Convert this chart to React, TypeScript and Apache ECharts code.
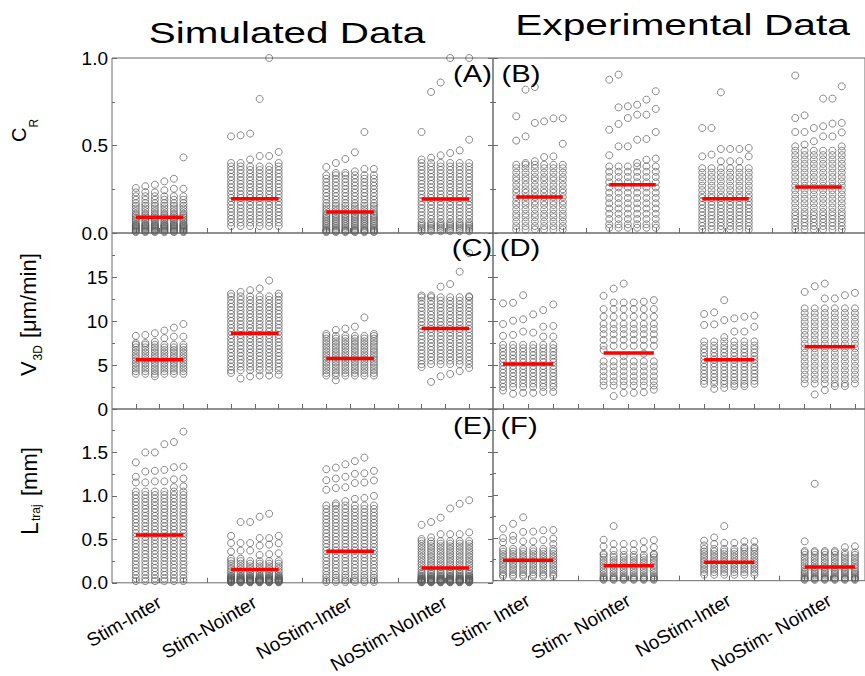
import React, { useEffect, useRef } from "react";
import * as echarts from "echarts";

// ---------- categories ----------
const CATS_SIM = ["Stim-Inter", "Stim-Nointer", "NoStim-Inter", "NoStim-NoInter"];
const CATS_EXP = ["Stim- Inter", "Stim- Nointer", "NoStim-Inter", "NoStim- Nointer"];

// ---------- medians (red bars) ----------
const A_MEDIAN = [0.09, 0.196, 0.12, 0.195];
const B_MEDIAN = [0.206, 0.276, 0.196, 0.263];
const C_MEDIAN = [5.6, 8.6, 5.75, 9.14];
const D_MEDIAN = [5.1, 6.35, 5.6, 7.07];
const E_MEDIAN = [0.549, 0.152, 0.364, 0.17];
const F_MEDIAN = [0.239, 0.174, 0.216, 0.159];

// ---------- C_R simulated (A) ----------
const A_CORE = [
  [0.21, 0.19, 0.17, 0.155, 0.14, 0.125, 0.11, 0.1, 0.09, 0.08, 0.07, 0.06, 0.05, 0.045, 0.04, 0.035, 0.03, 0.025, 0.02, 0.015, 0.01, 0.005],
  [0.38, 0.36, 0.34, 0.32, 0.3, 0.28, 0.26, 0.24, 0.22, 0.2, 0.18, 0.16, 0.14, 0.12, 0.1, 0.08, 0.06, 0.04],
  [0.33, 0.31, 0.29, 0.27, 0.25, 0.23, 0.21, 0.19, 0.17, 0.155, 0.14, 0.125, 0.11, 0.1, 0.09, 0.08, 0.07, 0.06, 0.05, 0.04, 0.03, 0.02, 0.015, 0.01, 0.005],
  [0.4, 0.38, 0.36, 0.34, 0.32, 0.3, 0.28, 0.26, 0.24, 0.22, 0.2, 0.18, 0.16, 0.14, 0.12, 0.1, 0.08, 0.06, 0.05, 0.04, 0.03, 0.02, 0.01],
];
const A_TOP = [
  [[0.257, 0.232], [0.267, 0.234], [0.276, 0.232], [0.295, 0.244], [0.31, 0.253], [0.432, 0.253]],
  [[0.552, 0.4], [0.558, 0.4], [0.568, 0.42], [0.766, 0.44], [1.0, 0.44], [0.463, 0.4]],
  [[0.377], [0.4, 0.343], [0.423, 0.343], [0.461, 0.352], [0.577, 0.366], [0.366]],
  [[0.577, 0.42], [0.806, 0.43], [0.86, 0.444], [1.0, 0.457], [0.472], [1.0, 0.533]],
];

// ---------- C_R experimental (B) ----------
const B_CORE = [
  [0.39, 0.37, 0.345, 0.32, 0.3, 0.275, 0.25, 0.23, 0.205, 0.18, 0.16, 0.135, 0.11, 0.09, 0.065, 0.04, 0.02],
  [0.38, 0.35, 0.32, 0.29, 0.26, 0.23, 0.2, 0.17, 0.14, 0.11, 0.08, 0.05, 0.03],
  [0.37, 0.345, 0.32, 0.295, 0.27, 0.245, 0.22, 0.2, 0.18, 0.16, 0.14, 0.12, 0.1, 0.08, 0.06, 0.04, 0.02],
  [0.47, 0.445, 0.42, 0.395, 0.37, 0.345, 0.32, 0.295, 0.27, 0.245, 0.22, 0.195, 0.17, 0.145, 0.12, 0.1, 0.08, 0.06, 0.04, 0.02],
];
const B_TOP = [
  [[0.667, 0.528], [0.819, 0.552, 0.4], [0.834, 0.629, 0.41], [0.638, 0.434], [0.655, 0.438], [0.655, 0.51]],
  [[0.876, 0.59, 0.444], [0.905, 0.718, 0.623, 0.495], [0.724, 0.657, 0.495], [0.733, 0.676, 0.533, 0.4], [0.762, 0.676, 0.537, 0.419], [0.81, 0.709, 0.577, 0.425]],
  [[0.6, 0.438], [0.6, 0.448], [0.804, 0.48, 0.41], [0.48, 0.41], [0.48, 0.41], [0.486, 0.438]],
  [[0.9, 0.657, 0.577, 0.495], [0.672, 0.577, 0.505], [0.6, 0.524], [0.768, 0.61, 0.552], [0.768, 0.625, 0.552], [0.838, 0.629, 0.575, 0.495]],
];

// ---------- V3D simulated (C) ----------
const C_CORE = [
  [7.3, 7.0, 6.7, 6.4, 6.1, 5.8, 5.5, 5.2, 4.9, 4.6, 4.3, 4.0],
  [12.8, 12.4, 12.0, 11.6, 11.2, 10.8, 10.4, 10.0, 9.6, 9.2, 8.8, 8.4, 8.0, 7.6, 7.2, 6.8, 6.4, 6.0, 5.6, 5.2, 4.8, 4.4],
  [8.3, 8.0, 7.7, 7.4, 7.1, 6.8, 6.5, 6.2, 5.9, 5.6, 5.3, 5.0, 4.7, 4.4, 4.1, 3.8],
  [12.7, 12.3, 11.9, 11.5, 11.1, 10.7, 10.3, 9.9, 9.5, 9.1, 8.7, 8.3, 7.9, 7.5, 7.1, 6.7, 6.3, 5.9, 5.5, 5.1],
];
const C_TOP = [
  [[8.31, 7.48], [8.42, 7.5], [8.61, 7.63, 3.72], [8.91, 8.05], [9.25, 8.23], [9.66, 8.23]],
  [[13.1, 4.1], [13.3, 3.46], [13.5, 3.7], [13.7, 3.8], [14.6, 3.8], [13.1, 3.9]],
  [[8.53], [8.98, 3.27], [9.14], [9.36], [10.4], [8.53]],
  [[12.9, 4.77], [12.9, 3.08], [13.9, 3.72], [14.2, 3.98], [15.6, 4.3], [17.7, 12.8, 4.66]],
];

// ---------- V3D experimental (D) ----------
const D_CORE = [
  [7.3, 6.9, 6.5, 6.1, 5.7, 5.3, 4.9, 4.5, 4.1, 3.7, 3.3, 2.9, 2.5],
  [11.35, 10.49, 9.66, 9.1, 8.5, 7.86, 7.18, 5.41, 4.85, 4.29, 3.72, 3.16, 2.67],
  [7.67, 7.2, 6.8, 6.4, 6.0, 5.6, 5.2, 4.8, 4.4, 4.0, 3.6, 3.2, 2.86],
  [11.43, 10.9, 10.4, 9.9, 9.4, 8.9, 8.4, 7.9, 7.4, 6.9, 6.4, 5.9, 5.4, 4.9, 4.4, 3.9, 3.4, 2.9],
];
const D_TOP = [
  [[12.0, 9.66, 8.31, 2.1], [12.07, 10.04, 8.42, 1.73], [12.93, 10.19, 8.8, 1.84], [10.75, 8.68, 1.84], [11.24, 9.36, 8.23, 1.95], [11.88, 9.44, 8.23, 1.95]],
  [[12.86, 6.7], [13.68, 12.1, 1.47], [14.25, 12.1, 6.0, 1.84], [12.1, 1.84], [12.2, 6.3, 1.9], [12.37, 2.2]],
  [[10.8, 9.55], [10.98, 9.62, 2.29], [12.37, 10.1, 8.16, 2.4], [10.3, 8.8, 2.6], [10.49, 8.8, 2.6], [10.6, 9.36]],
  [[13.3], [13.95, 1.65], [14.25, 12.56, 2.14], [12.56, 2.6], [12.93, 2.6], [13.2]],
];

// ---------- L_traj simulated (E) ----------
const E_CORE = [
  [1.05, 1.01, 0.97, 0.93, 0.89, 0.85, 0.81, 0.77, 0.73, 0.69, 0.65, 0.61, 0.57, 0.53, 0.49, 0.45, 0.41, 0.37, 0.33, 0.29, 0.25, 0.21, 0.17, 0.13, 0.09, 0.05, 0.02],
  [0.25, 0.22, 0.19, 0.16, 0.13, 0.1, 0.08, 0.07, 0.06, 0.05, 0.045, 0.04, 0.035, 0.03, 0.025, 0.02, 0.015, 0.01, 0.005],
  [0.89, 0.85, 0.81, 0.77, 0.73, 0.69, 0.65, 0.61, 0.57, 0.53, 0.49, 0.45, 0.41, 0.37, 0.33, 0.29, 0.25, 0.21, 0.17, 0.13, 0.09, 0.06, 0.03, 0.01],
  [0.48, 0.45, 0.42, 0.39, 0.36, 0.33, 0.3, 0.27, 0.24, 0.21, 0.18, 0.15, 0.12, 0.1, 0.08, 0.07, 0.06, 0.05, 0.045, 0.04, 0.035, 0.03, 0.025, 0.02, 0.015, 0.01, 0.005],
];
const E_TOP = [
  [[1.386, 1.22, 1.155], [1.5, 1.28, 1.155], [1.5, 1.288, 1.167], [1.595, 1.3, 1.167], [1.62, 1.33, 1.19, 1.1], [1.74, 1.337, 1.2, 1.11]],
  [[0.54, 0.458, 0.36, 0.277], [0.7, 0.458, 0.371, 0.277], [0.7, 0.458, 0.371], [0.76, 0.515, 0.428, 0.32], [0.795, 0.515, 0.44, 0.33], [0.54, 0.455, 0.34]],
  [[1.307, 1.18, 1.07], [1.326, 1.2, 1.09, 0.913], [1.364, 1.22, 1.1, 0.94], [1.4, 1.254, 1.148, 0.966], [1.44, 1.26, 1.155, 0.977], [1.288, 1.178, 1.0]],
  [[0.667, 0.504], [0.7, 0.523], [0.75, 0.56], [0.856, 0.56], [0.909, 0.56], [0.95, 0.58]],
];

// ---------- L_traj experimental (F) ----------
const F_CORE = [
  [0.37, 0.34, 0.31, 0.28, 0.25, 0.22, 0.19, 0.16, 0.13, 0.1, 0.07, 0.05],
  [0.3, 0.27, 0.24, 0.21, 0.18, 0.15, 0.12, 0.09, 0.06, 0.04, 0.03, 0.02, 0.01],
  [0.37, 0.34, 0.31, 0.28, 0.25, 0.22, 0.19, 0.16, 0.13, 0.1, 0.07],
  [0.33, 0.3, 0.27, 0.24, 0.21, 0.18, 0.15, 0.12, 0.1, 0.08, 0.06, 0.04, 0.03, 0.02, 0.01],
];
const F_TOP = [
  [[0.606, 0.496, 0.447], [0.663, 0.523, 0.473], [0.739, 0.568, 0.458], [0.572, 0.458], [0.587, 0.473], [0.59, 0.49, 0.428]],
  [[0.477, 0.4, 0.314], [0.636, 0.428, 0.352], [0.428, 0.352], [0.428, 0.352], [0.458, 0.37], [0.473, 0.39, 0.314]],
  [[0.466, 0.41], [0.504, 0.428], [0.636, 0.44], [0.44], [0.458, 0.39], [0.458, 0.39]],
  [[0.458, 0.345], [1.129, 0.345], [0.345], [0.345], [0.39], [0.4]],
];

// ---------- axis positions ----------
const GROUP_START = [1, 3, 5, 7];
const COL_OFFSET = [0, 0.2, 0.4, 0.6, 0.8, 1.0];
const X_TICKS = [1, 1.5, 2, 2.5, 3, 3.5, 4, 4.5, 5, 5.5, 6, 6.5, 7, 7.5, 8];
const LABEL_POS = [1.5, 3.5, 5.5, 7.5];

const FONT = '"Liberation Sans", Arial, sans-serif';
const AXIS_COLOR = "#6a6a6a";

function buildPoints(core: number[][], top: number[][][]) {
  const out: number[][] = [];
  GROUP_START.forEach((gs, g) => {
    COL_OFFSET.forEach((off, k) => {
      const x = gs + off;
      [...core[g], ...top[g][k]].forEach((v) => out.push([x, v]));
    });
  });
  return out;
}

const Y_SPEC = [
  { min: 0, max: 1, interval: 0.5, fmt: (v: number) => v.toFixed(1), showMax: true },
  { min: 0, max: 20, interval: 5, fmt: (v: number) => String(v), showMax: false },
  { min: 0, max: 2, interval: 0.5, fmt: (v: number) => v.toFixed(1), showMax: false },
];

const PANELS = [
  { core: A_CORE, top: A_TOP, med: A_MEDIAN, row: 0, left: true, grid: { left: 112, top: 58, width: 381, height: 175 }, xr: [0.5, 8.5] },
  { core: B_CORE, top: B_TOP, med: B_MEDIAN, row: 0, left: false, grid: { left: 493, top: 58, width: 381, height: 175 }, xr: [0.5, 8.5] },
  { core: C_CORE, top: C_TOP, med: C_MEDIAN, row: 1, left: true, grid: { left: 112, top: 233, width: 381, height: 176 }, xr: [0.5, 8.5] },
  { core: D_CORE, top: D_TOP, med: D_MEDIAN, row: 1, left: false, grid: { left: 493, top: 233, width: 380, height: 176 }, xr: [0.8, 8.2] },
  { core: E_CORE, top: E_TOP, med: E_MEDIAN, row: 2, left: true, grid: { left: 112, top: 409, width: 381, height: 175 }, xr: [0.5, 8.5] },
  { core: F_CORE, top: F_TOP, med: F_MEDIAN, row: 2, left: false, grid: { left: 493, top: 409, width: 380, height: 175 }, xr: [0.8, 8.2] },
];

function txt(text: string, x: number, y: number, fs: number, opts: any = {}) {
  const align = opts.align || "left";
  return {
    type: "text",
    x,
    y,
    rotation: opts.rotation || 0,
    scaleX: opts.scaleX || 1,
    scaleY: opts.scaleY || 1,
    z: 100,
    style: {
      text,
      fontSize: fs,
      fontFamily: FONT,
      fill: "#000",
      textAlign: align,
      align,
      textVerticalAlign: "middle",
      verticalAlign: "middle",
    },
  };
}

export default function App() {
  const ref = useRef<HTMLDivElement>(null);
  useEffect(() => {
    if (!ref.current) return;
    const chart = echarts.init(ref.current, null, { renderer: "svg" });

    const grids: any[] = [];
    const xAxes: any[] = [];
    const yAxes: any[] = [];
    const series: any[] = [];

    PANELS.forEach((p, i) => {
      grids.push({ ...p.grid, show: true, borderColor: AXIS_COLOR, borderWidth: 1, backgroundColor: "transparent" });
      const cats = p.left ? CATS_SIM : CATS_EXP;
      xAxes.push({
        type: "value",
        gridIndex: i,
        min: p.xr[0],
        max: p.xr[1],
        axisLine: { show: false },
        splitLine: { show: false },
        axisTick: { show: true, inside: true, length: 5, customValues: X_TICKS, lineStyle: { color: AXIS_COLOR } },
        axisLabel:
          p.row === 2
            ? {
                show: true,
                customValues: LABEL_POS,
                formatter: (v: number) => cats[Math.round((v - 1.5) / 2)] ?? "",
                rotate: 30,
                margin: 18,
                fontSize: 19,
                fontFamily: FONT,
                color: "#000",
              }
            : { show: false },
      });
      const ys = Y_SPEC[p.row];
      const base = {
        type: "value",
        gridIndex: i,
        min: ys.min,
        max: ys.max,
        interval: ys.interval,
        axisLine: { show: false },
        splitLine: { show: false },
        axisTick: { show: true, inside: true, length: 5, lineStyle: { color: AXIS_COLOR } },
        minorTick: { show: true, splitNumber: 2, length: 3, lineStyle: { color: AXIS_COLOR } },
        minorSplitLine: { show: false },
      };
      const yIdx = yAxes.length;
      yAxes.push({
        ...base,
        position: "left",
        axisLabel: p.left
          ? { show: true, formatter: ys.fmt, showMaxLabel: ys.showMax, fontSize: 19, fontFamily: FONT, color: "#000", margin: 4 }
          : { show: false },
      });
      if (p.left) {
        yAxes.push({ ...base, position: "right", axisLabel: { show: false } });
      }
      series.push({
        type: "scatter",
        xAxisIndex: i,
        yAxisIndex: yIdx,
        symbol: "circle",
        symbolSize: 7,
        silent: true,
        clip: true,
        itemStyle: { color: "rgba(255,255,255,0)", borderColor: "#5a5a5a", borderWidth: 0.9 },
        data: buildPoints(p.core, p.top),
        z: 2,
      });
      p.med.forEach((m, g) => {
        series.push({
          type: "line",
          xAxisIndex: i,
          yAxisIndex: yIdx,
          symbol: "none",
          silent: true,
          lineStyle: { color: "#ff0000", width: 3.5 },
          data: [
            [GROUP_START[g], m],
            [GROUP_START[g] + 1, m],
          ],
          z: 5,
        });
      });
    });

    const graphic: any[] = [
      txt("Simulated Data", 287, 32.4, 29.5, { align: "center", scaleX: 1.37 }),
      txt("Experimental Data", 682.5, 24.7, 29.5, { align: "center", scaleX: 1.38 }),
      txt("(A)", 472.5, 74.3, 24.5, { align: "center", scaleX: 1.19 }),
      txt("(B)", 521, 74.3, 24.5, { align: "center", scaleX: 1.19 }),
      txt("(C)", 472, 248.3, 24.5, { align: "center", scaleX: 1.19 }),
      txt("(D)", 520, 247.5, 24.5, { align: "center", scaleX: 1.19 }),
      txt("(E)", 472.5, 426.3, 24.5, { align: "center", scaleX: 1.19 }),
      txt("(F)", 519, 425.5, 24.5, { align: "center", scaleX: 1.19 }),
      // y axis names (rotated, reading upward)
      txt("C", 19.2, 142, 20, { rotation: Math.PI / 2 }),
      txt("R", 33.9, 127.5, 12, { rotation: Math.PI / 2 }),
      txt("V", 28.5, 376, 22, { rotation: Math.PI / 2 }),
      txt("3D", 37.9, 360.5, 12, { rotation: Math.PI / 2 }),
      txt("[\u03bcm/min]", 28.5, 338, 22, { rotation: Math.PI / 2 }),
      txt("L", 29.5, 535, 23, { rotation: Math.PI / 2 }),
      txt("traj", 35.9, 521, 12, { rotation: Math.PI / 2 }),
      txt("[mm]", 29.5, 496, 22, { rotation: Math.PI / 2 }),
    ];

    chart.setOption({
      animation: false,
      backgroundColor: "#ffffff",
      grid: grids,
      xAxis: xAxes,
      yAxis: yAxes,
      series,
      graphic,
    });
    return () => chart.dispose();
  }, []);
  return <div ref={ref} style={{ position: "absolute", left: 0, top: 0, width: 865, height: 676 }} />;
}
